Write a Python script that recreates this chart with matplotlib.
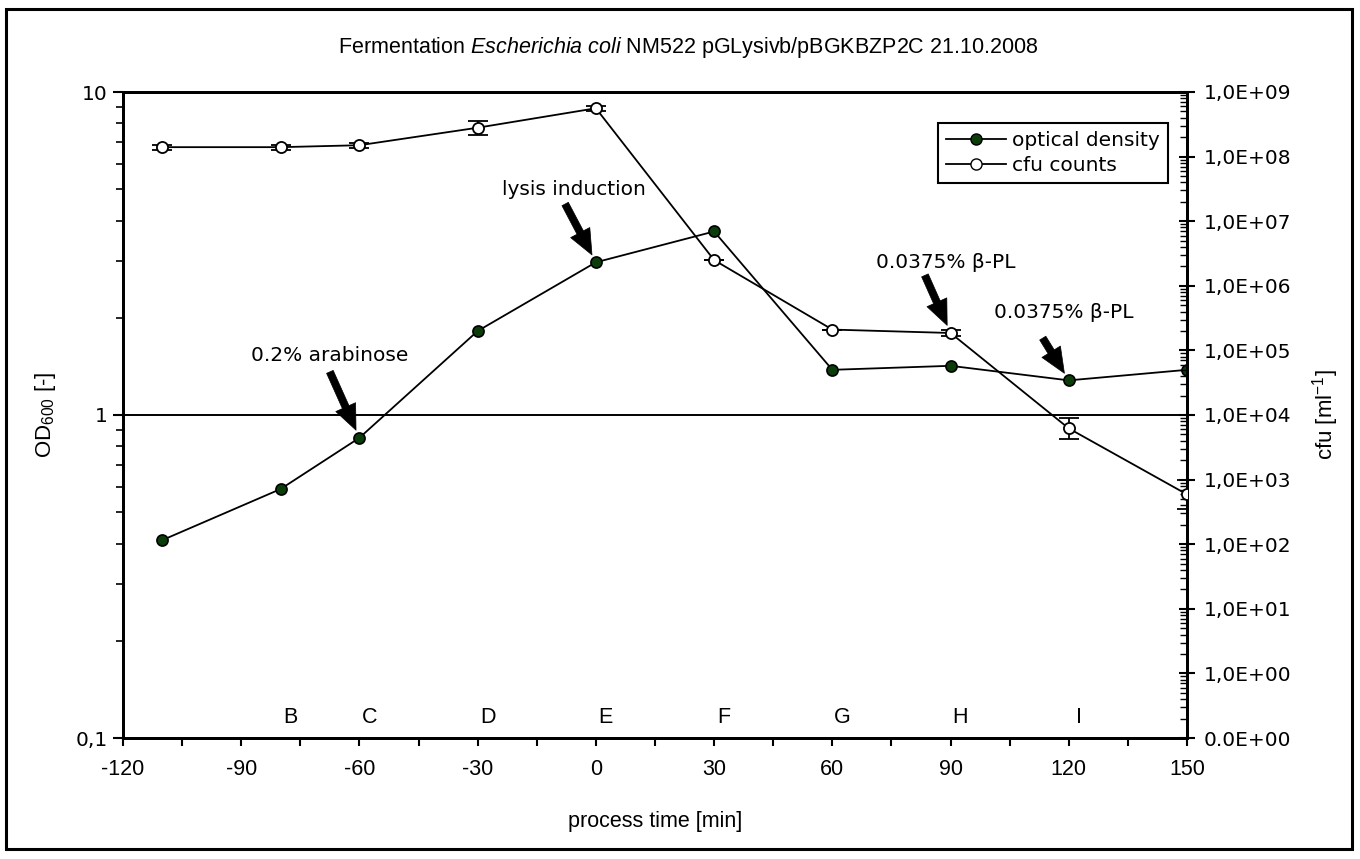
import numpy as np
import matplotlib
matplotlib.use("Agg")
import matplotlib.pyplot as plt
from matplotlib.ticker import FixedLocator, FuncFormatter, LogLocator, MultipleLocator, NullFormatter
from matplotlib.patches import Rectangle
from matplotlib.lines import Line2D
import matplotlib.transforms as mtransforms

# ---- data ----
time_min = [-110, -80, -60, -30, 0, 30, 60, 90, 120, 150]
od600 = [0.41, 0.59, 0.85, 1.82, 2.97, 3.7, 1.38, 1.42, 1.28, 1.38]
cfu = [1.4e8, 1.4e8, 1.5e8, 2.8e8, 5.6e8, 2.5e6, 2.1e5, 1.86e5, 6.2e3, 5.9e2]
cfu_err_dex = [0.04, 0.04, 0.04, 0.11, 0.04, 0.0, 0.0, 0.05, 0.16, 0.23]

sample_labels = ["B", "C", "D", "E", "F", "G", "H", "I"]
sample_times = [-80, -60, -30, 0, 30, 60, 90, 120]

x_ticks = list(range(-120, 151, 30))
od_ticks = [0.1, 1, 10]
od_tick_labels = ["0,1", "1", "10"]
cfu_exponents = list(range(-1, 10))

title_italic = "Escherichia\\ coli"
title_rest = " NM522 pGLysivb/pBGKBZP2C 21.10.2008"

# ---- fonts ----
narrow = ["Liberation Sans", "DejaVu Sans"]
wide = ["DejaVu Sans"]
plt.rcParams["axes.unicode_minus"] = False
plt.rcParams["mathtext.fontset"] = "custom"
plt.rcParams["mathtext.rm"] = "Liberation Sans"
plt.rcParams["mathtext.it"] = "Liberation Sans:italic"
plt.rcParams["mathtext.default"] = "regular"

fig = plt.figure(figsize=(13.6, 8.59), dpi=100)
ax = fig.add_axes([123 / 1360, 1 - 738 / 859, (1187 - 123) / 1360, (738 - 92) / 859])
ax2 = ax.twinx()

# ---- left axis: optical density ----
ax.set_yscale("log")
ax.set_ylim(0.1, 10)
ax.set_xlim(-120, 150)
ax.yaxis.set_major_locator(FixedLocator(od_ticks))
ax.yaxis.set_major_formatter(FuncFormatter(lambda v, p: od_tick_labels[od_ticks.index(v)] if v in od_ticks else ""))
ax.yaxis.set_minor_locator(LogLocator(base=10, subs=np.arange(2, 10)))
ax.yaxis.set_minor_formatter(NullFormatter())
ax.yaxis.grid(True, which="major", color="k", lw=1.4)
ax.set_axisbelow(True)

ax.xaxis.set_major_locator(FixedLocator(x_ticks))
ax.xaxis.set_minor_locator(MultipleLocator(15))

ax.tick_params(axis="y", which="major", direction="out", length=7, width=1.5, labelsize=14.5, pad=4)
ax.tick_params(axis="y", which="minor", direction="out", length=5, width=1.2)
ax.tick_params(axis="x", which="both", direction="out", length=6, width=1.5, labelsize=15.5, pad=9)
for lab in ax.get_yticklabels():
    lab.set_family(wide)
for lab in ax.get_xticklabels():
    lab.set_family(narrow)

for sp in ax.spines.values():
    sp.set_linewidth(2)
for sp in ax2.spines.values():
    sp.set_linewidth(2)

ax.plot(time_min, od600, "-", color="k", lw=1.3, marker="o", ms=8,
        mfc="#0b3d0b", mec="k", mew=1.2, zorder=3)

# ---- right axis: cfu counts ----
ax2.set_yscale("log")
ax2.set_ylim(10.0 ** cfu_exponents[0], 10.0 ** cfu_exponents[-1])
ax2.yaxis.set_major_locator(FixedLocator([10.0 ** e for e in cfu_exponents]))


def cfu_fmt(v, pos):
    e = int(round(np.log10(v)))
    if e < 0:
        return "0.0E+00"
    return "1,0E+%02d" % e


ax2.yaxis.set_major_formatter(FuncFormatter(cfu_fmt))
ax2.yaxis.set_minor_locator(LogLocator(base=10, subs=np.arange(2, 10), numticks=20))
ax2.yaxis.set_minor_formatter(NullFormatter())
ax2.tick_params(axis="y", which="major", direction="inout", length=12, width=1.5, labelsize=14.5, pad=6)
ax2.tick_params(axis="y", which="minor", direction="in", length=5, width=1.0)
for lab in ax2.get_yticklabels():
    lab.set_family(wide)

cfu_arr = np.array(cfu)
err = np.array(cfu_err_dex)
yerr = np.vstack([cfu_arr - cfu_arr / 10 ** err, cfu_arr * 10 ** err - cfu_arr])
ax2.errorbar(time_min, cfu, yerr=yerr, fmt="-", color="k", lw=1.3, marker="o", ms=8,
             mfc="white", mec="k", mew=1.3, ecolor="k", elinewidth=1.3, capsize=7, capthick=1.5,
             zorder=3)

# ---- sample letters ----
trans = mtransforms.blended_transform_factory(ax.transData, ax.transAxes)
for lab, t in zip(sample_labels, sample_times):
    ax.text(t + 2.5, 0.015, lab, transform=trans, ha="center", va="bottom",
            fontsize=15.5, family=narrow)

# ---- annotations ----
arrow_kw = dict(arrowstyle="simple,head_length=1.4,head_width=1.2,tail_width=0.4",
                fc="k", ec="k", lw=0.5, mutation_scale=13, shrinkA=0, shrinkB=6)
ann_font = dict(fontsize=14.5, family=wide, ha="center", va="center")

ax.text(-67.5, 1.53, "0.2% arabinose", **ann_font)
ax.annotate("", xy=(time_min[2], od600[2]), xytext=(-67.5, 1.36), arrowprops=arrow_kw)

ax.text(-5.6, 4.98, "lysis induction", **ann_font)
ax.annotate("", xy=(time_min[4], od600[4]), xytext=(-7.8, 4.5), arrowprops=arrow_kw)

ax2.text(88.8, 2.3e6, "0.0375% β-PL", zorder=5, **ann_font)
ax2.annotate("", xy=(time_min[7], cfu[7]), xytext=(83.5, 1.45e6), arrowprops=arrow_kw)

ax.text(118.8, 2.07, "0.0375% β-PL", **ann_font)
ax.annotate("", xy=(time_min[8], od600[8]), xytext=(113.4, 1.73), arrowprops=arrow_kw)

# ---- legend ----
handles = [
    Line2D([], [], color="k", lw=1.3, marker="o", ms=8, mfc="#0b3d0b", mec="k"),
    Line2D([], [], color="k", lw=1.3, marker="o", ms=8, mfc="white", mec="k"),
]
leg = ax2.legend(handles, ["optical density", "cfu counts"], loc="upper right",
                 bbox_to_anchor=(0.988, 0.962), frameon=True, fancybox=False,
                 edgecolor="k", framealpha=1, handlelength=3.0, handletextpad=0.3,
                 borderpad=0.4, borderaxespad=0.3, labelspacing=0.3,
                 prop=dict(family=wide, size=14.5))
leg.get_frame().set_linewidth(1.5)
leg._legend_box.align = "left"

# ---- labels ----
fig.text(688 / 1360, 1 - 48 / 859, "Fermentation $\\mathit{" + title_italic + "}$" + title_rest,
         ha="center", va="center", fontsize=15.5, family=narrow)
fig.text(655 / 1360, 1 - 822 / 859, "process time [min]", ha="center", va="center",
         fontsize=15.5, family=narrow)
fig.text(45 / 1360, 1 - 415 / 859, "OD$_{600}$ [-]", rotation=90, ha="center", va="center",
         fontsize=16, family=narrow)
fig.text(1326 / 1360, 1 - 415 / 859, "cfu [ml$^{-1}$]", rotation=90, ha="center", va="center",
         fontsize=16, family=narrow)

fig.patches.append(Rectangle((6 / 1360, 1 - 849 / 859), 1346 / 1360, 840 / 859,
                             transform=fig.transFigure, fill=False, lw=2.2, ec="k"))

fig.savefig("out.png", dpi=100)
